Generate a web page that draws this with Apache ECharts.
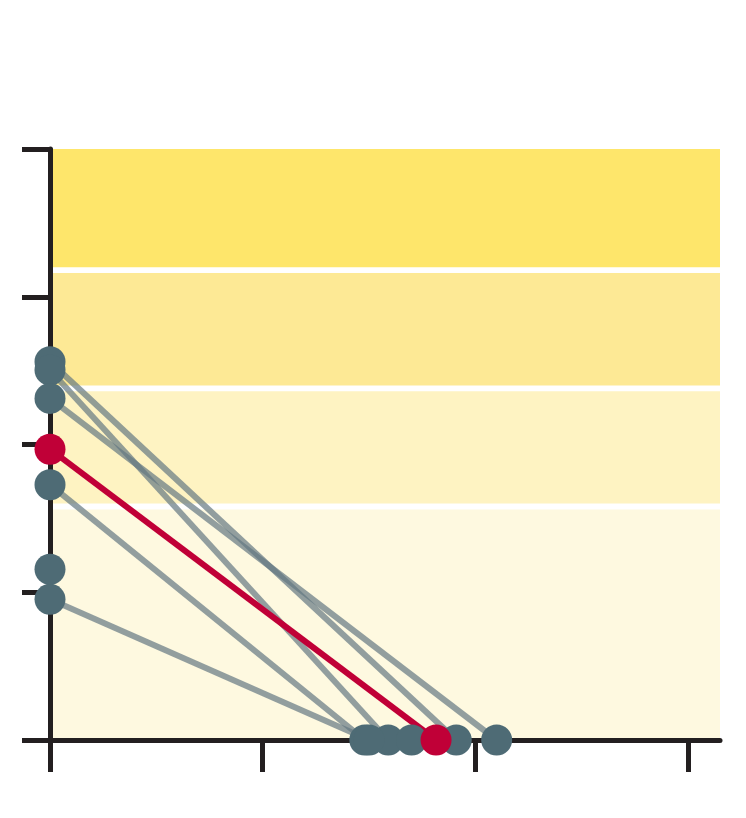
<!DOCTYPE html>
<html>
<head>
<meta charset="utf-8">
<script src="https://cdn.jsdelivr.net/npm/echarts@6/dist/echarts.min.js"></script>
<style>
    html, body {margin: 0; padding: 0; background: #fff;}
    #main {width: 746px; height: 818px;}
</style>
</head>
<body>
<div id="main"></div>
<script>
// paired values: left axis value -> bottom axis value
var pairLeft = [64.0, 62.6, 57.8, 49.2, 43.2, 23.8];
var pairBottom = [19.1, 15.9, 21.0, 18.15, 14.8, 15.0];
var highlightIndex = 3;
// values without a partner
var loneLeft = [28.9];
var loneBottom = [17.0];

var xTicks = [0, 10, 20, 30];
// background bands [from, to]
var bands = [[0, 39], [40, 59], [60, 79], [80, 100]];
var bandColors = ['#fef9e0', '#fef3c2', '#fde995', '#fee66b'];

var axisColor = '#231f20';
var dotColor = '#4e6b75';
var redColor = '#c00037';
var greyLine = 'rgb(100,120,130)';

var areaData = [];
for (var i = 0; i < bands.length; i++) {
    areaData.push([
        {yAxis: bands[i][0], itemStyle: {color: bandColors[i]}},
        {yAxis: bands[i][1]}
    ]);
}

var series = [{
    type: 'line',
    data: [],
    silent: true,
    markArea: {
        silent: true,
        z: 1,
        data: areaData
    }
}];

var greyDots = [];
var redDots = [];
for (var i = 0; i < pairLeft.length; i++) {
    var isRed = i === highlightIndex;
    series.push({
        type: 'line',
        data: [[0, pairLeft[i]], [pairBottom[i], 0]],
        symbol: 'none',
        silent: true,
        z: isRed ? 5 : 3,
        lineStyle: isRed ? {color: redColor, width: 6} : {color: greyLine, width: 6, opacity: 0.7}
    });
    if (isRed) {
        redDots.push([0, pairLeft[i]], [pairBottom[i], 0]);
    } else {
        greyDots.push([0, pairLeft[i]], [pairBottom[i], 0]);
    }
}
for (var j = 0; j < loneLeft.length; j++) greyDots.push([0, loneLeft[j]]);
for (var k = 0; k < loneBottom.length; k++) greyDots.push([loneBottom[k], 0]);

series.push({
    type: 'scatter',
    data: greyDots,
    symbolSize: 31,
    silent: true,
    z: 6,
    itemStyle: {color: dotColor, opacity: 1}
});
series.push({
    type: 'scatter',
    data: redDots,
    symbolSize: 31,
    silent: true,
    z: 7,
    itemStyle: {color: redColor, opacity: 1}
});

var option = {
    animation: false,
    grid: {left: 50, right: 26, top: 149, bottom: 78},
    xAxis: {
        type: 'value',
        min: 0,
        max: 31.5,
        z: 2,
        axisLine: {show: true, lineStyle: {color: axisColor, width: 5}},
        axisTick: {show: true, length: 32, customValues: xTicks, lineStyle: {color: axisColor, width: 5}},
        axisLabel: {show: false},
        splitLine: {show: false}
    },
    yAxis: {
        type: 'value',
        min: 0,
        max: 100,
        interval: 25,
        z: 2,
        axisLine: {show: true, lineStyle: {color: axisColor, width: 5}},
        axisTick: {show: true, length: 28, lineStyle: {color: axisColor, width: 5}},
        axisLabel: {show: false},
        splitLine: {show: false}
    },
    series: series
};

var myChart = echarts.init(document.getElementById('main'));
myChart.setOption(option);
</script>
</body>
</html>
